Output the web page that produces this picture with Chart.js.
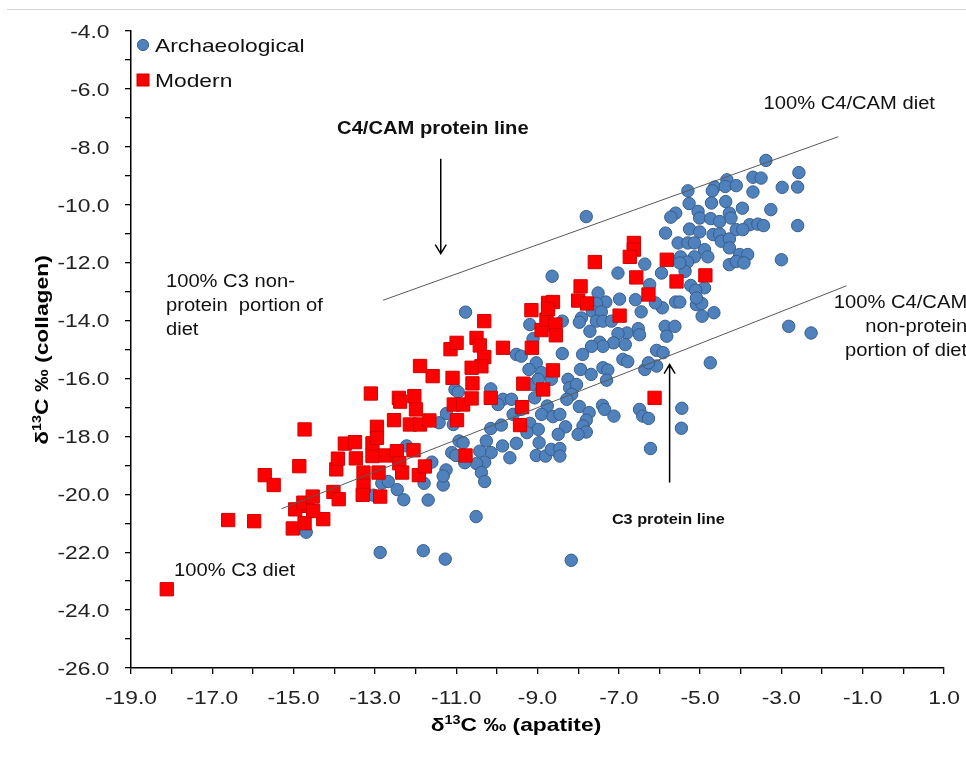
<!DOCTYPE html>
<html>
<head>
<meta charset="utf-8">
<title>δ13C collagen vs apatite</title>
<script src="https://cdn.jsdelivr.net/npm/chart.js@4.4.0/dist/chart.umd.min.js"></script>
<style>
    html, body { margin: 0; padding: 0; background: #ffffff; }
    #wrap { width: 966px; height: 780px; }
</style>
</head>
<body>
<div id="wrap"><canvas id="chart" width="966" height="780"></canvas></div>
<script>
// Archaeological samples (δ13C apatite, δ13C collagen)
const archX = [
    -3.38, -2.57, -2.60, -2.98, -3.70, -3.50, -3.70, -4.34, -4.64, -4.70,
    -4.38, -4.11, -5.30, -5.27, -4.72, -4.37, -3.96, -3.26, -2.60, -5.05,
    -5.60, -5.72, -5.01, -4.74, -4.52, -4.28, -4.24, -3.78, -3.58, -3.44,
    -5.26, -5.01, -4.68, -4.52, -4.11, -3.95, -5.85, -5.54, -5.30, -5.14,
    -4.89, -4.48, -4.28, -4.28, -4.03, -3.83, -5.48, -5.14, -4.81, -3.00,
    -4.28, -4.11, -3.92, -5.31, -5.37, -5.23, -4.89, -5.11, -5.09, -4.96,
    -4.66, -4.95, -5.60, -5.50, -5.93, -6.10, -5.95, -6.36, -7.02, -6.24,
    -6.98, -6.59, -6.45, -5.86, -5.62, -5.82, -6.52, -6.49, -6.80, -7.02,
    -7.51, -7.32, -7.55, -7.65, -7.43, -7.92, -7.97, -7.55, -7.39, -7.18,
    -7.71, -7.80, -8.64, -2.27, -2.82, -8.39, -10.77, -9.19, -9.11, -7.13,
    -6.84, -7.47, -7.39, -7.67, -7.89, -8.39, -9.52, -9.40, -9.03, -9.21,
    -8.90, -8.66, -9.11, -9.07, -8.76, -8.90, -8.62, -8.45, -8.25, -8.21,
    -8.04, -8.16, -8.28, -7.94, -7.68, -7.39, -7.27, -7.30, -7.97, -7.40,
    -7.35, -7.12, -7.73, -7.80, -7.88, -7.80, -8.00, -8.31, -8.49, -8.96,
    -9.03, -8.80, -8.66, -8.45, -8.45, -9.19, -8.98, -9.26, -9.52, -9.86,
    -9.68, -9.60, -9.40, -9.85, -9.64, -9.97, -10.15, -6.49, -6.41, -6.27,
    -6.36, -6.07, -6.27, -6.07, -5.91, -6.90, -6.78, -5.45, -5.46, -6.22,
    -4.75, -10.15, -10.26, -10.14, -10.42, -10.30, -10.50, -10.38, -10.30, -9.89,
    -14.69, -12.83, -12.67, -12.45, -12.29, -13.04, -12.22, -11.60, -11.79, -11.32,
    -11.25, -11.32, -11.69, -11.11, -11.01, -10.93, -10.83, -11.42, -11.07, -11.24,
    -11.03, -10.95, -10.79, -12.87, -11.81, -11.27, -10.51, -8.17, -8.98, -8.90,
    -5.09, -5.50
];
const archY = [
    -8.47, -8.89, -9.39, -9.40, -9.05, -9.08, -9.56, -9.14, -9.39, -9.52,
    -9.37, -9.34, -9.52, -9.96, -9.94, -9.89, -10.12, -10.17, -10.72, -10.23,
    -10.29, -10.43, -10.46, -10.48, -10.58, -10.29, -10.46, -10.69, -10.67, -10.72,
    -10.84, -10.94, -11.03, -11.01, -10.86, -10.86, -10.98, -11.32, -11.32, -11.32,
    -11.55, -11.26, -11.18, -11.49, -11.72, -11.72, -11.80, -11.80, -11.80, -11.90,
    -12.07, -11.96, -12.01, -11.98, -12.30, -12.79, -12.87, -12.95, -13.45, -13.41,
    -13.73, -13.85, -13.36, -13.36, -13.56, -13.39, -12.36, -12.05, -12.36, -12.76,
    -13.26, -13.28, -13.70, -14.20, -14.20, -14.54, -14.28, -14.49, -14.43, -14.45,
    -13.05, -13.36, -13.41, -13.68, -13.70, -13.91, -14.06, -14.02, -14.02, -14.02,
    -14.37, -10.41, -12.47, -14.43, -14.20, -14.02, -13.71, -14.14, -14.63, -14.77,
    -14.83, -14.75, -14.89, -14.89, -15.17, -15.14, -15.17, -15.23, -15.46, -15.69,
    -15.80, -16.03, -16.21, -16.67, -16.95, -17.24, -17.32, -17.24, -16.03, -16.32,
    -16.21, -16.55, -16.72, -15.69, -15.86, -15.63, -15.71, -16.06, -16.97, -16.93,
    -17.07, -17.30, -17.18, -17.44, -17.64, -17.85, -17.93, -17.67, -17.93, -18.22,
    -18.66, -18.68, -18.45, -18.42, -18.68, -17.55, -17.76, -17.87, -18.24, -18.33,
    -18.74, -17.24, -17.07, -16.72, -16.72, -16.90, -16.36, -17.07, -17.30, -17.38,
    -15.69, -15.57, -15.46, -15.03, -15.11, -15.34, -15.42, -17.03, -17.72, -18.42,
    -15.46, -17.73, -18.16, -18.56, -18.51, -18.89, -18.94, -19.25, -19.56, -17.61,
    -21.31, -19.62, -19.56, -19.84, -20.19, -20.03, -18.33, -18.89, -19.62, -19.68,
    -19.16, -19.37, -20.20, -18.56, -18.66, -18.16, -18.22, -17.53, -17.59, -17.21,
    -16.38, -16.47, -18.91, -22.01, -21.95, -22.24, -20.77, -22.28, -16.03, -16.38,
    -13.22, -12.01
];

// Modern samples
const modX = [
    -18.12, -16.61, -15.97, -15.02, -14.73, -14.66, -14.96, -14.27, -15.71, -15.49,
    -14.73, -14.86, -14.76, -14.53, -14.52, -14.02, -13.89, -13.95, -13.91, -13.74,
    -13.49, -13.47, -13.28, -13.28, -13.30, -12.87, -12.91, -13.06, -13.06, -12.95,
    -12.95, -13.10, -12.74, -12.53, -12.46, -12.40, -12.33, -12.41, -12.38, -12.03,
    -11.99, -12.14, -11.89, -12.05, -11.92, -11.77, -11.66, -11.89, -11.58, -11.09,
    -11.14, -10.99, -10.98, -11.06, -10.83, -10.77, -10.31, -10.50, -9.15, -8.90,
    -8.78, -8.74, -6.63, -6.63, -6.73, -7.59, -5.82, -6.57, -4.87, -5.58,
    -7.94, -6.27, -8.00, -7.78, -6.98, -8.62, -8.74, -8.56, -8.55, -10.42,
    -9.85, -9.14, -10.31, -10.38, -10.62, -8.62, -10.60, -9.35, -8.86, -10.15,
    -10.62, -9.38, -9.43, -6.12
];
const modY = [
    -23.28, -20.89, -20.93, -21.18, -21.00, -20.40, -20.52, -20.86, -19.34, -19.68,
    -17.76, -19.03, -20.29, -20.08, -20.58, -19.92, -20.17, -19.14, -18.77, -18.25,
    -18.20, -18.76, -19.25, -19.71, -20.02, -20.08, -19.25, -18.68, -18.24, -17.67,
    -18.05, -16.52, -18.66, -17.44, -18.51, -18.93, -19.25, -16.67, -16.80, -16.61,
    -17.07, -17.59, -17.59, -18.48, -19.34, -19.04, -17.45, -15.57, -15.92, -15.98,
    -14.99, -14.77, -17.44, -16.90, -16.90, -18.66, -14.02, -14.60, -13.64, -14.33,
    -13.97, -13.39, -11.32, -11.55, -11.80, -11.98, -11.90, -12.51, -12.44, -12.65,
    -12.82, -13.10, -13.31, -13.41, -13.83, -13.36, -13.60, -14.14, -14.51, -14.86,
    -14.94, -14.94, -15.26, -15.58, -15.63, -15.72, -16.17, -16.18, -16.38, -16.67,
    -16.69, -16.99, -17.61, -16.67
];

// reference lines (end points)
const c4LineX = [-12.8, -1.6];
const c4LineY = [-13.3, -7.65];
const c3LineX = [-15.3, -1.4];
const c3LineY = [-20.5, -12.8];

// tick labels
const xTickValues = [-19, -17, -15, -13, -11, -9, -7, -5, -3, -1, 1];
const yTickValues = [-4, -6, -8, -10, -12, -14, -16, -18, -20, -22, -24, -26];

const FONT = '"Liberation Sans", Arial, sans-serif';

// text notes in data coordinates
const notes = [
    { lines: ['C4/CAM protein line'], x: -13.93, y: -7.34, bold: true, size: 18, align: 'left' },
    { lines: ['100% C4/CAM diet'], x: -3.44, y: -6.48, size: 18, align: 'left' },
    { lines: ['100% C3 non-', 'protein  portion of', 'diet'], x: -18.14, y: -12.62, size: 18, align: 'left' },
    { lines: ['100% C4/CAM', 'non-protein', 'portion of diet'], x: 1.57, y: -13.34, size: 18, align: 'right' },
    { lines: ['C3 protein line'], x: -7.17, y: -20.86, bold: true, size: 14.5, align: 'left' },
    { lines: ['100% C3 diet'], x: -17.94, y: -22.59, size: 18, align: 'left' }
];
const arrows = [
    { x: -11.38, from: -8.41, to: -11.69 },
    { x: -5.75, from: -19.59, to: -15.52 }
];

function toPoints(xs, ys) {
    return xs.map((x, i) => ({ x: x, y: ys[i] }));
}

// text with a slight horizontal stretch, y is the middle of the capitals
function drawText(ctx, str, x, y, o) {
    const sx = o.sx || 1.15;
    ctx.save();
    ctx.font = (o.bold ? 'bold ' : '') + o.size + 'px ' + FONT;
    ctx.fillStyle = o.color || '#111';
    ctx.textAlign = 'left';
    ctx.textBaseline = 'alphabetic';
    const w = ctx.measureText(str).width * sx;
    let left = x;
    if (o.align === 'right') left = x - w;
    else if (o.align === 'center') left = x - w / 2;
    ctx.translate(left, y + o.size * 0.36);
    ctx.scale(sx, 1);
    ctx.fillText(str, 0, 0);
    ctx.restore();
    return w;
}

function drawRuns(ctx, runs, cx, cy, size, sx) {
    ctx.save();
    ctx.fillStyle = '#000';
    ctx.textBaseline = 'alphabetic';
    const fonts = runs.map(r => 'bold ' + (r.sup ? Math.round(size * 0.62) : size) + 'px ' + FONT);
    let total = 0;
    const ws = runs.map((r, i) => {
        ctx.font = fonts[i];
        const w = ctx.measureText(r.t).width * sx;
        total += w;
        return w;
    });
    let x = cx - total / 2;
    runs.forEach((r, i) => {
        ctx.font = fonts[i];
        ctx.save();
        ctx.translate(x, cy + size * 0.36 - (r.sup ? size * 0.36 : 0));
        ctx.scale(sx, 1);
        ctx.fillText(r.t, 0, 0);
        ctx.restore();
        x += ws[i];
    });
    ctx.restore();
}

const decor = {
    id: 'decor',
    afterDraw(chart) {
        const ctx = chart.ctx;
        const xs = chart.scales.x;
        const ys = chart.scales.y;
        const ca = chart.chartArea;

        // thin grey rule at the very top
        ctx.save();
        ctx.strokeStyle = '#d4d4d4';
        ctx.lineWidth = 1;
        ctx.beginPath();
        ctx.moveTo(7, 9.5);
        ctx.lineTo(966, 9.5);
        ctx.stroke();
        ctx.restore();

        // tick labels
        xTickValues.forEach(v => {
            drawText(ctx, v.toFixed(1), xs.getPixelForValue(v), ca.bottom + 29, { size: 19, sx: 1.2, align: 'center', color: '#222' });
        });
        yTickValues.forEach(v => {
            drawText(ctx, v.toFixed(1), ca.left - 21.5, ys.getPixelForValue(v), { size: 19, sx: 1.2, align: 'right', color: '#222' });
        });

        // axis titles
        drawRuns(ctx, [{ t: 'δ' }, { t: '13', sup: true }, { t: 'C ‰ (apatite)' }], 516, 724, 19, 1.2);
        ctx.save();
        ctx.translate(41, 350);
        ctx.rotate(-Math.PI / 2);
        drawRuns(ctx, [{ t: 'δ' }, { t: '13', sup: true }, { t: 'C ‰ (collagen)' }], 0, 0, 19, 1.2);
        ctx.restore();

        // legend
        const lx = ca.left + 12;
        ctx.save();
        ctx.fillStyle = '#4F81BD';
        ctx.strokeStyle = '#385D8A';
        ctx.lineWidth = 1;
        ctx.beginPath();
        ctx.arc(lx, 45, 5.6, 0, Math.PI * 2);
        ctx.fill();
        ctx.stroke();
        ctx.fillStyle = '#FF0000';
        ctx.strokeStyle = '#D00000';
        ctx.fillRect(lx - 6, 74, 12, 12);
        ctx.strokeRect(lx - 6, 74, 12, 12);
        ctx.restore();
        drawText(ctx, 'Archaeological', lx + 12, 45, { size: 19, sx: 1.2, color: '#111' });
        drawText(ctx, 'Modern', lx + 12, 80, { size: 19, sx: 1.2, color: '#111' });

        // notes
        notes.forEach(n => {
            const px = xs.getPixelForValue(n.x);
            const py = ys.getPixelForValue(n.y);
            n.lines.forEach((line, i) => {
                drawText(ctx, line, px, py + i * 23.8, { size: n.size, bold: n.bold, align: n.align, sx: 1.12, color: '#111' });
            });
        });

        // arrows with open heads
        ctx.save();
        ctx.strokeStyle = '#000';
        ctx.lineWidth = 1.5;
        arrows.forEach(a => {
            const px = xs.getPixelForValue(a.x);
            const y0 = ys.getPixelForValue(a.from);
            const y1 = ys.getPixelForValue(a.to);
            const dir = y1 > y0 ? 1 : -1;
            ctx.beginPath();
            ctx.moveTo(px, y0);
            ctx.lineTo(px, y1);
            ctx.moveTo(px - 5.5, y1 - dir * 9);
            ctx.lineTo(px, y1);
            ctx.lineTo(px + 5.5, y1 - dir * 9);
            ctx.stroke();
        });
        ctx.restore();
    }
};

const axisStyle = {
    type: 'linear',
    ticks: { display: false, stepSize: 1 },
    grid: { drawOnChartArea: false, color: '#000', tickColor: '#000', tickLength: 6, lineWidth: 1.3 },
    border: { display: true, color: '#000', width: 1.5 }
};

new Chart(document.getElementById('chart').getContext('2d'), {
    type: 'scatter',
    data: {
        datasets: [
            {
                label: 'C4/CAM protein line',
                type: 'line',
                data: toPoints(c4LineX, c4LineY),
                borderColor: '#595959',
                borderWidth: 1,
                pointRadius: 0,
                fill: false,
                order: 0
            },
            {
                label: 'C3 protein line',
                type: 'line',
                data: toPoints(c3LineX, c3LineY),
                borderColor: '#595959',
                borderWidth: 1,
                pointRadius: 0,
                fill: false,
                order: 0
            },
            {
                label: 'Modern',
                data: toPoints(modX, modY),
                pointStyle: 'rect',
                pointRadius: 9.4,
                backgroundColor: '#FF0000',
                borderColor: '#D40000',
                borderWidth: 1,
                order: 1
            },
            {
                label: 'Archaeological',
                data: toPoints(archX, archY),
                pointStyle: 'circle',
                pointRadius: 6.2,
                backgroundColor: '#4F81BD',
                borderColor: '#385D8A',
                borderWidth: 1,
                order: 2
            }
        ]
    },
    options: {
        responsive: false,
        animation: false,
        layout: { padding: { left: 125, right: 22, top: 31, bottom: 106 } },
        plugins: {
            legend: { display: false },
            tooltip: { enabled: false }
        },
        scales: {
            x: Object.assign({}, axisStyle, { min: -19, max: 1 }),
            y: Object.assign({}, axisStyle, { min: -26, max: -4 })
        }
    },
    plugins: [decor]
});
</script>
</body>
</html>
